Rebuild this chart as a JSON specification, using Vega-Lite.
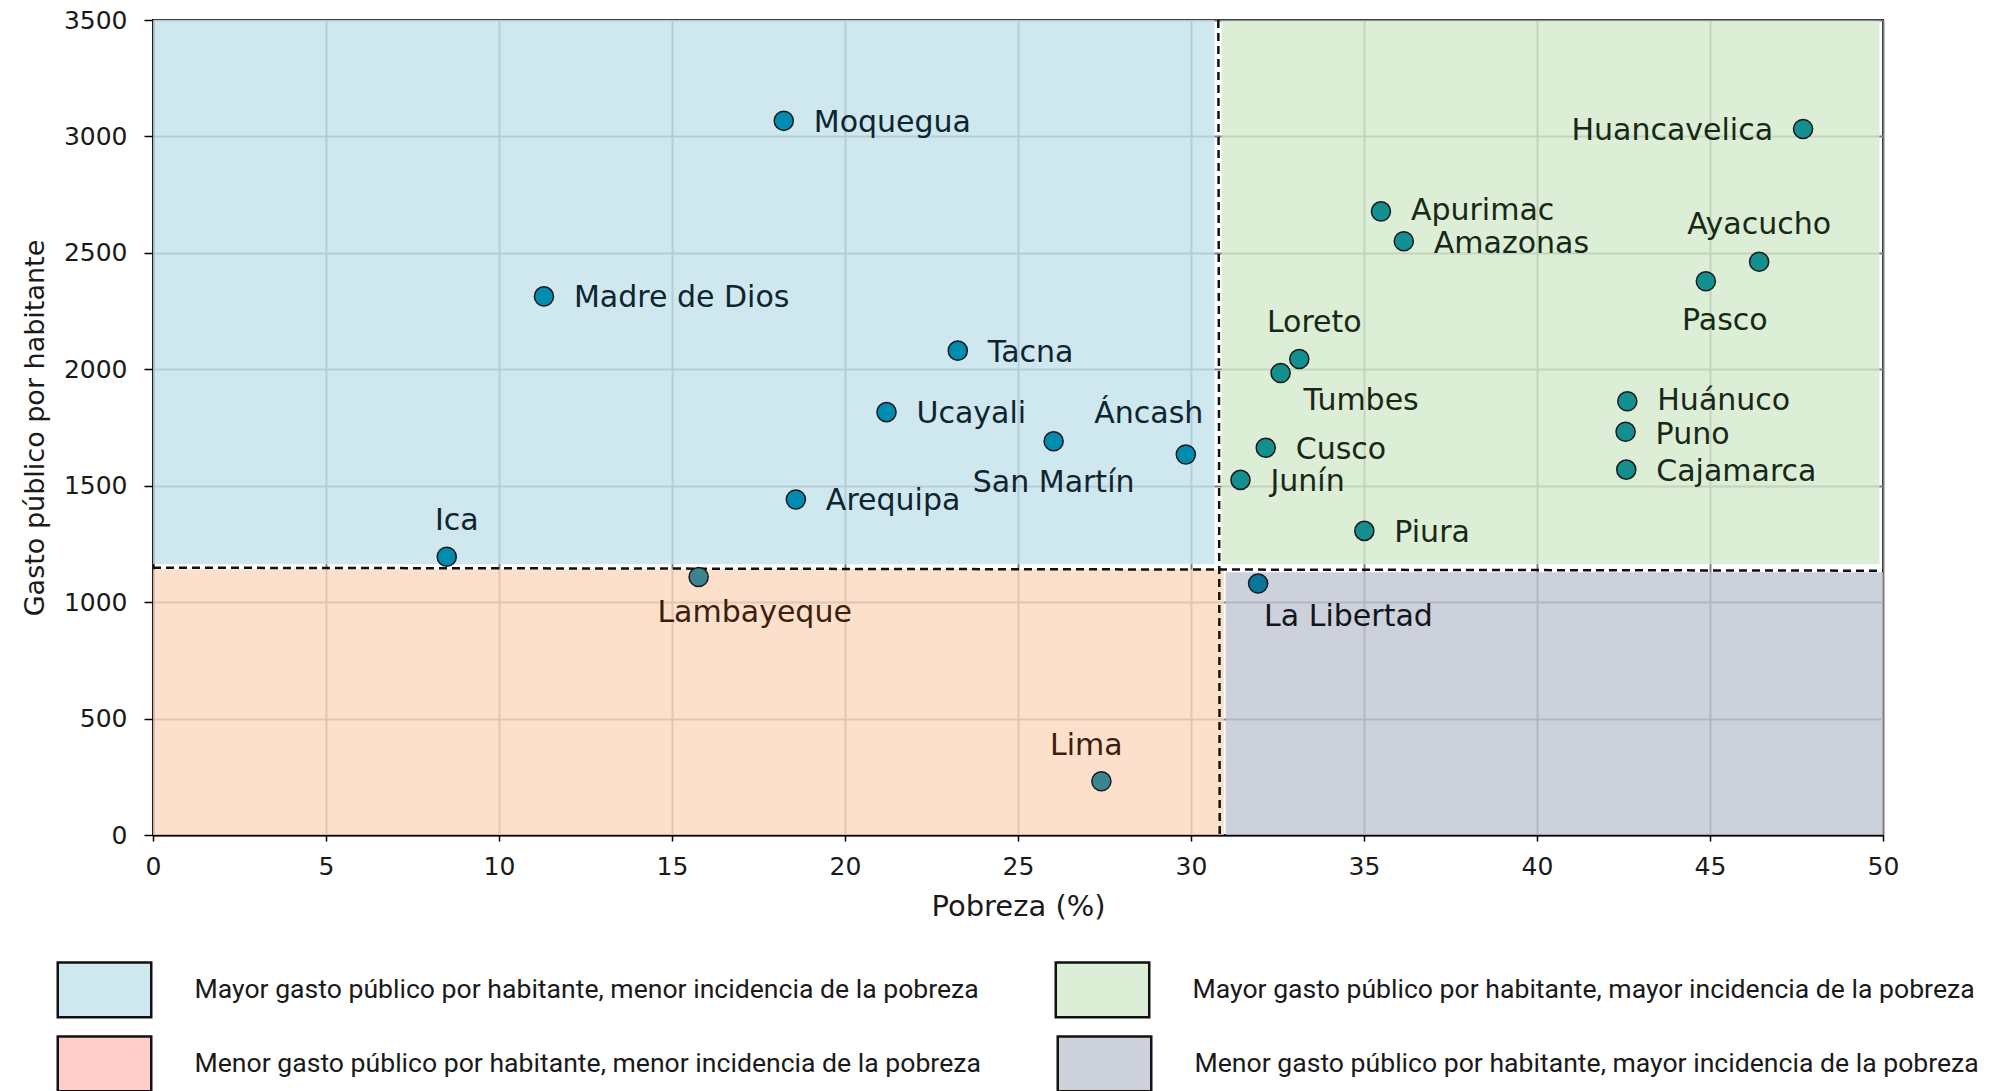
{
  "$schema": "https://vega.github.io/schema/vega-lite/v6.json",
  "width": 1730,
  "height": 815,
  "autosize": {"type": "none"},
  "padding": {"left": 153, "top": 20, "right": 112, "bottom": 256},
  "background": "white",
  "config": {
    "view": {"stroke": "#000", "strokeWidth": 2},
    "axis": {
      "domainColor": "#000", "domainWidth": 2,
      "tickColor": "#000", "tickWidth": 1.5,
      "gridColor": "#7d7d7d", "gridWidth": 2, "gridOpacity": 1,
      "labelFont": "DejaVu Sans", "labelFontSize": 25, "labelColor": "#1a1a1a",
      "titleFont": "DejaVu Sans", "titleColor": "#1a1a1a", "titleFontWeight": "normal"
    },
    "legend": {
      "orient": "none", "direction": "horizontal", "title": null, "padding": 0,
      "symbolType": "M-1,-0.585L1,-0.585L1,0.585L-1,0.585Z",
      "symbolSize": 8742, "symbolStrokeColor": "#111", "symbolStrokeWidth": 2.5, "symbolOpacity": 1,
      "labelFont": "Roboto", "labelFontSize": 26.6, "labelColor": "#1a1a1a",
      "labelOffset": 42, "labelLimit": 1200, "columnPadding": 71
    },
    "text": {"font": "DejaVu Sans", "fontSize": 30, "baseline": "middle"}
  },
  "datasets": {
    "puntos": [
      {"nombre": "Moquegua", "pobreza": 18.23, "gasto": 3067, "cuadrante": "A"},
      {"nombre": "Madre de Dios", "pobreza": 11.30, "gasto": 2313, "cuadrante": "A"},
      {"nombre": "Tacna", "pobreza": 23.26, "gasto": 2080, "cuadrante": "A"},
      {"nombre": "Ucayali", "pobreza": 21.20, "gasto": 1816, "cuadrante": "A"},
      {"nombre": "San Martín", "pobreza": 26.03, "gasto": 1691, "cuadrante": "A"},
      {"nombre": "Áncash", "pobreza": 29.85, "gasto": 1634, "cuadrante": "A"},
      {"nombre": "Arequipa", "pobreza": 18.58, "gasto": 1441, "cuadrante": "A"},
      {"nombre": "Ica", "pobreza": 8.49, "gasto": 1195, "cuadrante": "A"},
      {"nombre": "Lambayeque", "pobreza": 15.77, "gasto": 1108, "cuadrante": "C"},
      {"nombre": "Lima", "pobreza": 27.41, "gasto": 231, "cuadrante": "C"},
      {"nombre": "La Libertad", "pobreza": 31.94, "gasto": 1080, "cuadrante": "D"},
      {"nombre": "Huancavelica", "pobreza": 47.69, "gasto": 3032, "cuadrante": "B"},
      {"nombre": "Apurimac", "pobreza": 35.49, "gasto": 2678, "cuadrante": "B"},
      {"nombre": "Amazonas", "pobreza": 36.15, "gasto": 2550, "cuadrante": "B"},
      {"nombre": "Ayacucho", "pobreza": 46.42, "gasto": 2462, "cuadrante": "B"},
      {"nombre": "Pasco", "pobreza": 44.88, "gasto": 2378, "cuadrante": "B"},
      {"nombre": "Loreto", "pobreza": 33.13, "gasto": 2044, "cuadrante": "B"},
      {"nombre": "Tumbes", "pobreza": 32.59, "gasto": 1984, "cuadrante": "B"},
      {"nombre": "Huánuco", "pobreza": 42.61, "gasto": 1863, "cuadrante": "B"},
      {"nombre": "Puno", "pobreza": 42.56, "gasto": 1732, "cuadrante": "B"},
      {"nombre": "Cajamarca", "pobreza": 42.58, "gasto": 1569, "cuadrante": "B"},
      {"nombre": "Cusco", "pobreza": 32.16, "gasto": 1663, "cuadrante": "B"},
      {"nombre": "Junín", "pobreza": 31.43, "gasto": 1525, "cuadrante": "B"},
      {"nombre": "Piura", "pobreza": 35.01, "gasto": 1306, "cuadrante": "B"}
    ],
    "regiones": [
      {"leyenda": "Mayor gasto público por habitante, menor incidencia de la pobreza", "gasto_nivel": "Mayor", "pobreza": 0, "pobreza_fin": 30.68, "gasto": 1163, "gasto_fin": 3500},
      {"leyenda": "Mayor gasto público por habitante, mayor incidencia de la pobreza", "gasto_nivel": "Mayor", "pobreza": 30.88, "pobreza_fin": 49.9, "gasto": 1163, "gasto_fin": 3497},
      {"leyenda": "Menor gasto público por habitante, menor incidencia de la pobreza", "gasto_nivel": "Menor", "pobreza": 0, "pobreza_fin": 30.95, "gasto": 0, "gasto_fin": 1141},
      {"leyenda": "Menor gasto público por habitante, mayor incidencia de la pobreza", "gasto_nivel": "Menor", "pobreza": 31.0, "pobreza_fin": 50, "gasto": 0, "gasto_fin": 1128}
    ],
    "umbrales": [
      {"linea": "gasto", "pobreza": 0, "gasto": 1148},
      {"linea": "gasto", "pobreza": 50, "gasto": 1135},
      {"linea": "pobreza", "pobreza": 30.79, "gasto": 3500},
      {"linea": "pobreza", "pobreza": 30.83, "gasto": 0}
    ]
  },
  "encoding": {
    "x": {
      "field": "pobreza", "type": "quantitative",
      "scale": {"domain": [0, 50], "nice": false, "zero": false},
      "axis": {"title": "Pobreza (%)", "values": [0, 5, 10, 15, 20, 25, 30, 35, 40, 45, 50], "format": "d", "tickSize": 6, "labelPadding": 13, "titlePadding": 13, "titleFontSize": 29, "labelFlush": false, "labelOverlap": false}
    },
    "y": {
      "field": "gasto", "type": "quantitative",
      "scale": {"domain": [0, 3500], "nice": false, "zero": false},
      "axis": {"title": "Gasto público por habitante", "values": [0, 500, 1000, 1500, 2000, 2500, 3000, 3500], "format": "d", "tickSize": 9, "labelPadding": 17, "titlePadding": 14, "titleFontSize": 27, "labelFlush": false, "labelOverlap": false}
    }
  },
  "resolve": {"scale": {"fill": "independent", "color": "independent"}},
  "layer": [
    {
      "data": {"name": "regiones"},
      "mark": {"type": "rect", "opacity": 0.8},
      "encoding": {
        "x2": {"field": "pobreza_fin"},
        "y2": {"field": "gasto_fin"},
        "fill": {
          "field": "leyenda", "type": "nominal",
          "scale": {
            "domain": [
              "Mayor gasto público por habitante, menor incidencia de la pobreza",
              "Mayor gasto público por habitante, mayor incidencia de la pobreza",
              "Menor gasto público por habitante, menor incidencia de la pobreza",
              "Menor gasto público por habitante, mayor incidencia de la pobreza"
            ],
            "range": ["#c3e1ea", "#d5eacc", "#fcd8be", "#c1c6d2"]
          },
          "legend": null
        }
      }
    },
    {
      "data": {"name": "regiones"},
      "transform": [{"filter": {"field": "gasto_nivel", "equal": "Mayor"}}],
      "mark": {"type": "square", "opacity": 0},
      "encoding": {
        "color": {
          "field": "leyenda", "type": "nominal",
          "scale": {
            "domain": [
              "Mayor gasto público por habitante, menor incidencia de la pobreza",
              "Mayor gasto público por habitante, mayor incidencia de la pobreza"
            ],
            "range": ["#cfe7ee", "#ddeed6"]
          },
          "legend": {"legendX": -96.5, "legendY": 921.5}
        }
      }
    },
    {
      "data": {"name": "regiones"},
      "transform": [{"filter": {"field": "gasto_nivel", "equal": "Menor"}}],
      "mark": {"type": "square", "opacity": 0},
      "encoding": {
        "color": {
          "field": "leyenda", "type": "nominal",
          "scale": {
            "domain": [
              "Menor gasto público por habitante, menor incidencia de la pobreza",
              "Menor gasto público por habitante, mayor incidencia de la pobreza"
            ],
            "range": ["#ffcccc", "#cdd1db"]
          },
          "legend": {"legendX": -96.5, "legendY": 995.5}
        }
      }
    },
    {
      "data": {"name": "umbrales"},
      "mark": {"type": "line", "color": "#111", "strokeWidth": 2.5, "strokeDash": [8, 5]},
      "encoding": {"detail": {"field": "linea"}}
    },
    {
      "data": {"name": "puntos"},
      "mark": {"type": "point", "shape": "circle", "filled": true, "size": 365, "stroke": "#1a1a1a", "strokeWidth": 1.5, "opacity": 1},
      "encoding": {
        "fill": {
          "field": "cuadrante", "type": "nominal",
          "scale": {"domain": ["A", "B", "C", "D"], "range": ["#008bb0", "#138f8f", "#3a8590", "#0a749b"]},
          "legend": null
        }
      }
    },
    {
      "data": {"name": "puntos"},
      "encoding": {
        "text": {"field": "nombre"},
        "color": {
          "condition": [
            {"test": "datum.cuadrante === 'B'", "value": "#172817"},
            {"test": "datum.cuadrante === 'C'", "value": "#3b1f0d"},
            {"test": "datum.cuadrante === 'D'", "value": "#11161c"}
          ],
          "value": "#0e2530"
        }
      },
      "layer": [
        {"transform": [{"filter": {"field": "nombre", "oneOf": ["Moquegua", "Madre de Dios", "Tacna", "Ucayali", "Arequipa", "Cajamarca", "Cusco", "Junín", "Piura"]}}],
         "mark": {"type": "text", "align": "left", "dx": 30, "dy": 2}},
        {"transform": [{"filter": {"field": "nombre", "oneOf": ["Apurimac", "Huánuco"]}}],
         "mark": {"type": "text", "align": "left", "dx": 30, "dy": 0}},
        {"transform": [{"filter": {"field": "nombre", "oneOf": ["Amazonas", "Puno"]}}],
         "mark": {"type": "text", "align": "left", "dx": 30, "dy": 3}},
        {"transform": [{"filter": {"field": "nombre", "equal": "Huancavelica"}}],
         "mark": {"type": "text", "align": "right", "dx": -30, "dy": 2}},
        {"transform": [{"filter": {"field": "nombre", "equal": "Ica"}}],
         "mark": {"type": "text", "align": "center", "dx": 10, "dy": -36}},
        {"transform": [{"filter": {"field": "nombre", "equal": "Lambayeque"}}],
         "mark": {"type": "text", "align": "center", "dx": 56, "dy": 36}},
        {"transform": [{"filter": {"field": "nombre", "equal": "Lima"}}],
         "mark": {"type": "text", "align": "center", "dx": -15, "dy": -35}},
        {"transform": [{"filter": {"field": "nombre", "equal": "La Libertad"}}],
         "mark": {"type": "text", "align": "left", "dx": 6, "dy": 33}},
        {"transform": [{"filter": {"field": "nombre", "equal": "Áncash"}}],
         "mark": {"type": "text", "align": "center", "dx": -37, "dy": -41}},
        {"transform": [{"filter": {"field": "nombre", "equal": "San Martín"}}],
         "mark": {"type": "text", "align": "center", "dx": 0, "dy": 42}},
        {"transform": [{"filter": {"field": "nombre", "equal": "Loreto"}}],
         "mark": {"type": "text", "align": "center", "dx": 15, "dy": -36}},
        {"transform": [{"filter": {"field": "nombre", "equal": "Tumbes"}}],
         "mark": {"type": "text", "align": "left", "dx": 23, "dy": 28}},
        {"transform": [{"filter": {"field": "nombre", "equal": "Ayacucho"}}],
         "mark": {"type": "text", "align": "center", "dx": 0, "dy": -37}},
        {"transform": [{"filter": {"field": "nombre", "equal": "Pasco"}}],
         "mark": {"type": "text", "align": "center", "dx": 19, "dy": 40}}
      ]
    }
  ]
}
